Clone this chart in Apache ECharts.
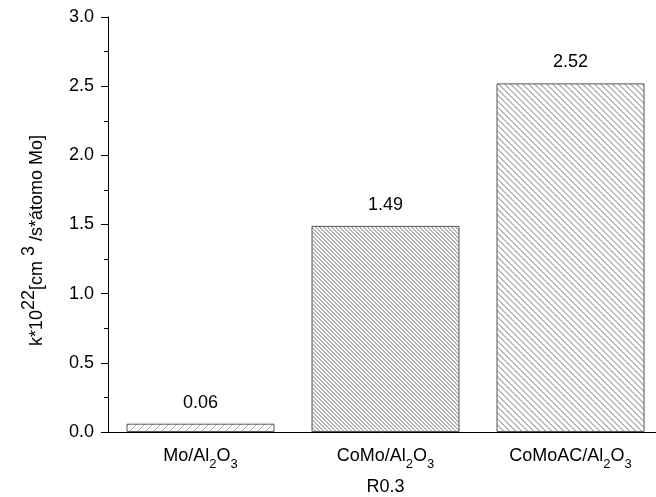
<!DOCTYPE html>
<html>
<head>
<meta charset="utf-8">
<script src="https://cdn.jsdelivr.net/npm/echarts@6/dist/echarts.min.js"></script>
<style>
  html, body { margin: 0; padding: 0; background: #fff; }
  #chart { width: 656px; height: 497px; }
</style>
</head>
<body>
<div id="chart"></div>
<script>
const categories = ['Mo/Al2O3', 'CoMo/Al2O3', 'CoMoAC/Al2O3']
const catLabels = ['{m|Mo/Al}{s|2}{m|O}{s|3}', '{m|CoMo/Al}{s|2}{m|O}{s|3}', '{m|CoMoAC/Al}{s|2}{m|O}{s|3}']
const values = [0.06, 1.49, 2.52]
const valueLabels = ['0.06', '1.49', '2.52']
const xTitle = 'R0.3'
const yTitle = '{a|k*10}{b|22}{a|[cm}{b| 3 }{a|/s*átomo Mo]}'

// hatch tiles: dir 1 = '\', -1 = '/'
function hatch(period, width, dir, color) {
  const c = document.createElement('canvas')
  c.width = period
  c.height = period
  const ctx = c.getContext('2d')
  ctx.fillStyle = '#fff'
  ctx.fillRect(0, 0, period, period)
  ctx.fillStyle = color
  for (let x = 0; x < period; x++) {
    for (let y = 0; y < period; y++) {
      const k = dir > 0 ? (x - y + period * 4) % period : (x + y) % period
      if (k < width) ctx.fillRect(x, y, 1, 1)
    }
  }
  return { image: c, repeat: 'repeat' }
}

const fills = [
  hatch(8, 1, -1, '#9c9c9c'),
  hatch(4, 2, 1, '#b6b6b6'),
  hatch(6, 2, 1, '#b8b8b8')
]

const font = 'Liberation Sans, Arial, sans-serif'
const chart = echarts.init(document.getElementById('chart'))

const options = {
  backgroundColor: '#fff',
  animation: false,
  grid: {
    left: 108,
    right: -7,
    top: 17,
    bottom: 65,
    containLabel: false,
    outerBoundsMode: 'none'
  },
  xAxis: [{
    type: 'category',
    data: categories,
    position: 'bottom',
    name: xTitle,
    nameLocation: 'middle',
    nameGap: 46,
    nameMoveOverlap: false,
    nameTextStyle: { fontFamily: font, fontSize: 18, color: '#000' },
    axisLine: { lineStyle: { color: '#000', width: 1 } },
    axisTick: { alignWithLabel: true, length: 7, lineStyle: { color: '#000' } },
    axisLabel: {
      margin: 9,
      interval: 0,
      formatter: (v, i) => catLabels[i],
      rich: {
        m: { fontFamily: font, fontSize: 18, color: '#000', lineHeight: 30 },
        s: { fontFamily: font, fontSize: 13, color: '#000', lineHeight: 14, verticalAlign: 'bottom' }
      }
    },
    splitLine: { show: false }
  }, {
    type: 'category',
    data: categories,
    position: 'bottom',
    axisLine: { show: false },
    axisTick: { length: 4, lineStyle: { color: '#000' } },
    axisLabel: { show: false },
    splitLine: { show: false }
  }],
  yAxis: {
    type: 'value',
    min: 0,
    max: 3,
    interval: 0.5,
    name: yTitle,
    nameLocation: 'middle',
    nameRotate: 90,
    nameGap: 54,
    nameMoveOverlap: false,
    nameTextStyle: {
      padding: [0, 32, 0, 0],
      rich: {
        a: { fontFamily: font, fontSize: 18, color: '#000', lineHeight: 34 },
        b: { fontFamily: font, fontSize: 18, color: '#000', lineHeight: 16, verticalAlign: 'top' }
      }
    },
    axisLine: { show: true, lineStyle: { color: '#000', width: 1 } },
    axisTick: { show: true, length: 7, lineStyle: { color: '#000' } },
    minorTick: { show: true, splitNumber: 2, length: 4, lineStyle: { color: '#000' } },
    axisLabel: {
      margin: 14,
      fontFamily: font,
      fontSize: 18,
      color: '#000',
      formatter: v => v.toFixed(1)
    },
    splitLine: { show: false }
  },
  series: [{
    type: 'bar',
    barWidth: '80%',
    data: values.map((v, i) => ({
      value: v,
      itemStyle: { color: fills[i], borderColor: '#555', borderWidth: 1 }
    })),
    label: {
      show: true,
      position: 'top',
      distance: 12,
      fontFamily: font,
      fontSize: 18,
      color: '#000',
      formatter: p => valueLabels[p.dataIndex]
    }
  }]
}

chart.setOption(options)
</script>
</body>
</html>
